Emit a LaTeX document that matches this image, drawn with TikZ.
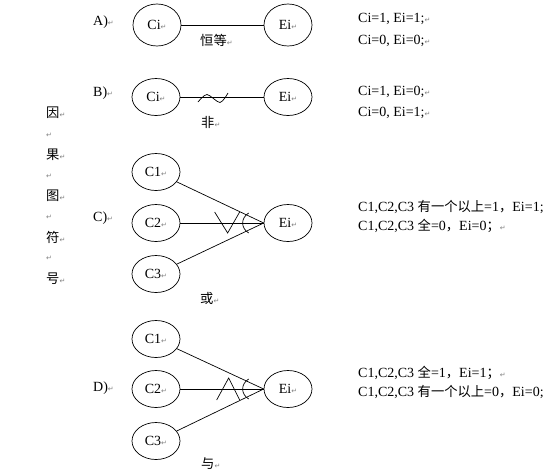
\documentclass[tikz,border=0pt]{standalone}
\usepackage{fontspec}
\setmainfont{Liberation Serif}
\newfontfamily\cjk[Scale=0.95]{Noto Sans CJK SC}
\newfontfamily\symf{DejaVu Sans}
\usetikzlibrary{shapes.geometric,calc}
\newcommand\ret{{\symf\color{gray}\fontsize{7}{7}\selectfont ↵}}
\tikzset{
  txt/.style={font=\fontsize{14}{16}\selectfont, inner sep=0pt, anchor=west},
  ell/.style={ellipse, draw, line width=0.7pt, minimum width=48pt, minimum height=37pt, inner sep=0pt, font=\fontsize{14}{16}\selectfont},
  ellA/.style={ell, minimum height=42pt},
  conn/.style={line width=0.7pt},
  glyph/.style={line width=0.7pt}
}
\begin{document}
\begin{tikzpicture}[x=1pt,y=-1pt]
\useasboundingbox (0,0) rectangle (552,475);
% vertical title
\node[txt] (t1) at (46,113) {{\cjk 因}\ret};
\node[txt] (r1) at (46,135) {\ret};
\node[txt] (t2) at (46,155) {{\cjk 果}\ret};
\node[txt] (r2) at (46,176) {\ret};
\node[txt] (t3) at (46,196) {{\cjk 图}\ret};
\node[txt] (r3) at (46,217) {\ret};
\node[txt] (t4) at (46,237) {{\cjk 符}\ret};
\node[txt] (r4) at (46,258) {\ret};
\node[txt] (t5) at (46,279) {{\cjk 号}\ret};
% A
\node[txt] (la) at (93,22) {A)\ret};
\node[ellA] (ciA) at (157,25) {Ci\ret};
\node[ellA] (eiA) at (288,25) {Ei\ret};
\draw[conn] (ciA) -- (eiA);
\node[txt] (nA) at (200,40) {{\cjk 恒等}\ret};
\node[txt] (a1) at (358,19) {Ci=1, Ei=1;\ret};
\node[txt] (a2) at (358,41) {Ci=0, Ei=0;\ret};
% B
\node[txt] (lb) at (93,93) {B)\ret};
\node[ell] (ciB) at (156,97) {Ci\ret};
\node[ell] (eiB) at (288,97) {Ei\ret};
\draw[conn] (ciB) -- (eiB);
\draw[glyph] plot[smooth] coordinates {(198,102) (207,94.5) (220,102.5) (228,93)};
\node[txt] (nB) at (201,122) {{\cjk 非}\ret};
\node[txt] (b1) at (358,92) {Ci=1, Ei=0;\ret};
\node[txt] (b2) at (358,113) {Ci=0, Ei=1;\ret};
% C
\node[txt] (lc) at (93,218) {C)\ret};
\node[ell] (c1C) at (156,172) {C1\ret};
\node[ell] (c2C) at (156,223) {C2\ret};
\node[ell] (c3C) at (156,274) {C3\ret};
\node[ell] (eiC) at (288,223) {Ei\ret};
\draw[conn] (c1C) -- (eiC.west);
\draw[conn] (c2C) -- (eiC.west);
\draw[conn] (c3C) -- (eiC.west);
\draw[glyph] ($(eiC.west)+(-49,-11)$) -- ($(eiC.west)+(-36,10)$) -- ($(eiC.west)+(-24,-11)$);
\draw[glyph] ($(eiC.west)+(-15,-10)$) .. controls ($(eiC.west)+(-23,-5)$) and ($(eiC.west)+(-23,5)$) .. ($(eiC.west)+(-15,10)$);
\node[txt] (nC) at (200,298) {{\cjk 或}\ret};
\node[txt] (c1) at (358,207) {C1,C2,C3 {\cjk 有一个以上}=1{\cjk ，}Ei=1;};
\node[txt] (c2) at (358,226) {C1,C2,C3 {\cjk 全}=0{\cjk ，}Ei=0{\cjk ；}\ret};
% D
\node[txt] (ld) at (93,388) {D)\ret};
\node[ell] (c1D) at (156,339) {C1\ret};
\node[ell] (c2D) at (156,389) {C2\ret};
\node[ell] (c3D) at (156,441) {C3\ret};
\node[ell] (eiD) at (288,389) {Ei\ret};
\draw[conn] (c1D) -- (eiD.west);
\draw[conn] (c2D) -- (eiD.west);
\draw[conn] (c3D) -- (eiD.west);
\draw[glyph] ($(eiD.west)+(-47,11)$) -- ($(eiD.west)+(-35,-11)$) -- ($(eiD.west)+(-24,11)$);
\draw[glyph] ($(eiD.west)+(-15,-10)$) .. controls ($(eiD.west)+(-23,-5)$) and ($(eiD.west)+(-23,5)$) .. ($(eiD.west)+(-15,10)$);
\node[txt] (nD) at (201,464) {{\cjk 与}\ret};
\node[txt] (d1) at (358,373) {C1,C2,C3 {\cjk 全}=1{\cjk ，}Ei=1{\cjk ；}\ret};
\node[txt] (d2) at (358,392) {C1,C2,C3 {\cjk 有一个以上}=0{\cjk ，}Ei=0;};
\end{tikzpicture}
\end{document}
